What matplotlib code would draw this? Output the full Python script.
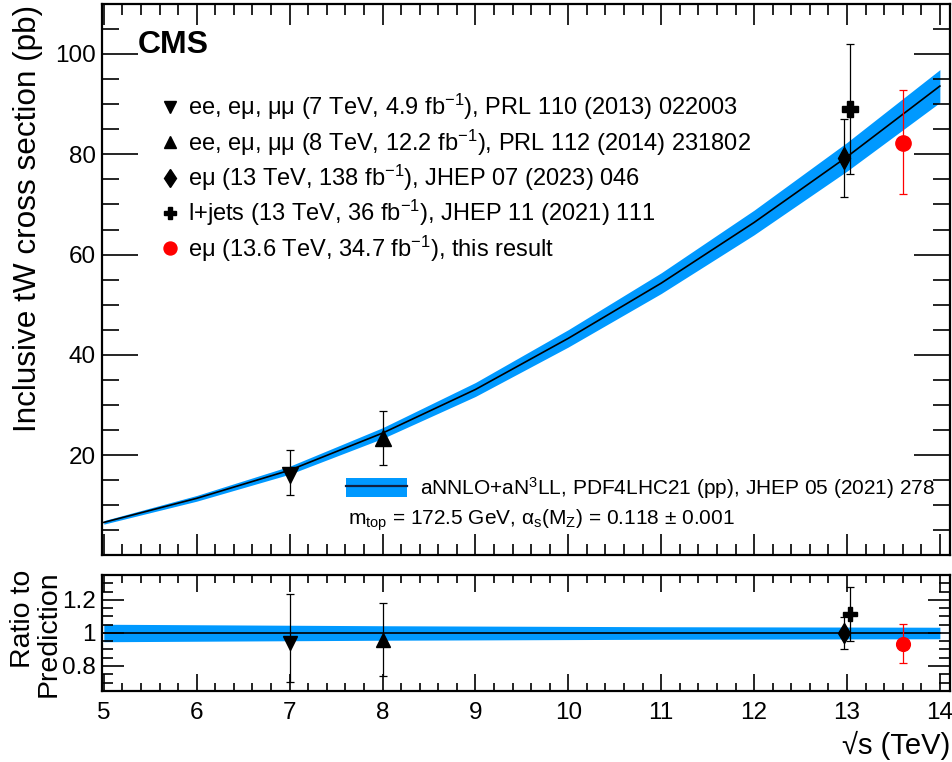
import numpy as np
import matplotlib
matplotlib.use("Agg")
import matplotlib.pyplot as plt
from matplotlib.lines import Line2D
from matplotlib.patches import Patch
from matplotlib.ticker import MultipleLocator, FixedLocator, FuncFormatter

plt.rcParams['font.family'] = ['Liberation Sans', 'DejaVu Sans']
plt.rcParams['mathtext.fontset'] = 'custom'
plt.rcParams['mathtext.rm'] = 'Liberation Sans'
plt.rcParams['mathtext.it'] = 'Liberation Sans:italic'
plt.rcParams['mathtext.bf'] = 'Liberation Sans:bold'
plt.rcParams['mathtext.default'] = 'regular'

# theory prediction (aNNLO+aN3LL)
sqrt_s = [5, 6, 7, 8, 9, 10, 11, 12, 13, 14]
theory = [6.6, 11.4, 17.0, 24.4, 33.1, 43.3, 54.3, 66.4, 79.5, 93.6]
theory_rel_unc = [0.053, 0.050, 0.047, 0.044, 0.042, 0.040, 0.038, 0.037, 0.036, 0.035]

# measurements
meas_x = [7.0, 8.0, 12.97, 13.03, 13.6]
meas_y = [16.0, 23.4, 79.2, 89.0, 82.3]
meas_up = [5.0, 5.4, 7.8, 13.0, 10.6]
meas_dn = [4.0, 5.4, 7.8, 13.0, 10.3]
meas_labels = [
    r"ee, eμ, μμ (7 TeV, 4.9 fb$^{-1}$), PRL 110 (2013) 022003",
    r"ee, eμ, μμ (8 TeV, 12.2 fb$^{-1}$), PRL 112 (2014) 231802",
    r"eμ (13 TeV, 138 fb$^{-1}$), JHEP 07 (2023) 046",
    r"l+jets (13 TeV, 36 fb$^{-1}$), JHEP 11 (2021) 111",
    r"eμ (13.6 TeV, 34.7 fb$^{-1}$), this result",
]
markers = ['v', '^', 'd', 'P', 'o']
colors = ['black', 'black', 'black', 'black', 'red']
msizes = [11, 11, 11, 11, 11]

band_col = '#0099ff'

th = np.array(theory)
unc = np.array(theory_rel_unc)
xs = np.array(sqrt_s, dtype=float)

fig = plt.figure(figsize=(9.52, 7.62), dpi=100)
ax = fig.add_axes([0.1068, 0.2710, 0.8916, 0.7240])
ax2 = fig.add_axes([0.1068, 0.0935, 0.8916, 0.1516])

# main panel
ax.fill_between(xs, th * (1 - unc), th * (1 + unc), color=band_col, lw=0, zorder=1)
ax.plot(xs, th, color='black', lw=1.2, zorder=2)
for i in range(len(meas_x)):
    ax.errorbar(meas_x[i], meas_y[i], yerr=[[meas_dn[i]], [meas_up[i]]], fmt=markers[i],
                color=colors[i], ms=msizes[i], capsize=3, elinewidth=0.9, capthick=0.9, zorder=3)

# ratio panel
ax2.fill_between(xs, 1 - unc, 1 + unc, color=band_col, lw=0, zorder=1)
ax2.plot(xs, np.ones_like(xs), color='black', lw=1.2, zorder=2)
th_at = np.interp(meas_x, xs, th)
for i in range(len(meas_x)):
    ax2.errorbar(meas_x[i], meas_y[i] / th_at[i],
                 yerr=[[meas_dn[i] / th_at[i]], [meas_up[i] / th_at[i]]], fmt=markers[i],
                 color=colors[i], ms=msizes[i] * 0.9, capsize=3, elinewidth=0.9, capthick=0.9, zorder=3)

for a in (ax, ax2):
    a.set_xlim(4.977, 14.114)
    a.xaxis.set_major_locator(MultipleLocator(1))
    a.xaxis.set_minor_locator(MultipleLocator(0.2))
    for s in a.spines.values():
        s.set_linewidth(1.6)

ax.set_ylim(0, 110)
ax.yaxis.set_major_locator(MultipleLocator(20))
ax.yaxis.set_minor_locator(MultipleLocator(5))
ax.yaxis.set_major_formatter(FuncFormatter(lambda v, p: "" if v == 0 else "%g" % v))
ax.tick_params(which='both', direction='in', top=True, right=True, labelsize=17.5, width=1.2)
ax.tick_params(axis='y', which='major', length=26, pad=4)
ax.tick_params(axis='y', which='minor', length=12)
ax.tick_params(axis='x', which='major', length=15, labelbottom=False)
ax.tick_params(axis='x', which='minor', length=8)

ax2.set_ylim(0.65, 1.35)
ax2.yaxis.set_major_locator(FixedLocator([0.8, 1.0, 1.2]))
ax2.yaxis.set_minor_locator(MultipleLocator(0.05))
ax2.yaxis.set_major_formatter(FuncFormatter(lambda v, p: "%g" % round(v, 2)))
ax2.tick_params(which='both', direction='in', top=True, right=True, labelsize=17.5, width=1.2)
ax2.tick_params(axis='y', which='major', length=16, pad=4)
ax2.tick_params(axis='y', which='minor', length=8)
ax2.tick_params(axis='x', which='major', length=12, pad=8)
ax2.tick_params(axis='x', which='minor', length=6)

# labels
fig.text(28 / 952, 1 - 218 / 762, "Inclusive tW cross section (pb)", rotation=90,
         ha='center', va='center', fontsize=22.7)
fig.text(36 / 952, 1 - 570 / 762, "Ratio to\nPrediction", rotation=90, ha='center', va='top',
         multialignment='right', fontsize=20.5, linespacing=0.95)
ax2.set_xlabel("√s (TeV)", fontsize=21, loc='right', labelpad=5)

ax.text(0.0428, 0.925, "CMS", transform=ax.transAxes, fontsize=23, fontweight='bold',
        ha='left', va='center')

# legends
handles = [Line2D([], [], ls='none', marker=markers[i], color=colors[i], ms=msizes[i] * 0.85)
           for i in range(len(meas_x))]
leg1 = ax.legend(handles, meas_labels, loc='upper left', bbox_to_anchor=(0.0666, 0.840),
                 frameon=False, fontsize=17, handlelength=1.0, handletextpad=0.26,
                 borderpad=0, borderaxespad=0, labelspacing=0.22)
ax.add_artist(leg1)

th_handle = (Patch(facecolor=band_col, edgecolor='none'), Line2D([], [], color='#102040', lw=1.6))
ax.legend([th_handle], [r"aNNLO+aN$^{3}$LL, PDF4LHC21 (pp), JHEP 05 (2021) 278"],
          loc='center left', bbox_to_anchor=(0.2878, 0.1224), frameon=False, fontsize=15,
          handlelength=2.93, handleheight=1.0, handletextpad=0.64, borderpad=0, borderaxespad=0)
ax.text(0.2900, 0.0643, r"m$_{top}$ = 172.5 GeV, α$_{s}$(M$_{Z}$) = 0.118 ± 0.001",
        transform=ax.transAxes, fontsize=15, ha='left', va='center')

fig.savefig("out.png", dpi=100)
